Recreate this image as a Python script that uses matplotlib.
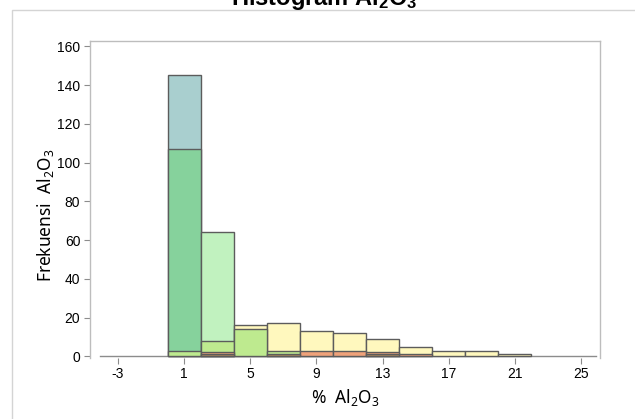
import matplotlib
matplotlib.use("Agg")
import matplotlib.pyplot as plt
from matplotlib.patches import Rectangle
import numpy as np

plt.rcParams['font.family'] = ['Noto Sans', 'DejaVu Sans']

# Bin edges of the histogram (% Al2O3)
bin_edges = [0, 2, 4, 6, 8, 10, 12, 14, 16, 18, 20, 22]

# Visible layers of the overlaid histogram (counts per bin)
teal   = [145, 0, 0, 0, 0, 0, 0, 0, 0, 0, 0]
green  = [107, 0, 0, 0, 0, 0, 0, 0, 0, 0, 0]
mint   = [0, 64, 0, 0, 0, 0, 0, 0, 0, 0, 0]
yellow = [0, 0, 16, 17, 13, 12, 9, 5, 3, 3, 1]
lime   = [3, 8, 14, 3, 0, 0, 0, 0, 0, 0, 0]
salmon = [0, 2, 0, 0, 3, 3, 2, 1, 0, 0, 0]
brown  = [0, 1, 0, 1, 0, 0, 1, 0, 0, 0, 0]

layers = [teal, green, mint, yellow, lime, salmon, brown]
colors = ['#A9CFCF', '#86D29C', '#C1F2BF', '#FFF8BE', '#BEEA8F', '#EFA27A', '#B38A5A']

xticks = [-3, 1, 5, 9, 13, 17, 21, 25]
yticks = [0, 20, 40, 60, 80, 100, 120, 140, 160]

W, H = 635, 419
fig = plt.figure(figsize=(W / 100, H / 100), dpi=100)

# outer light frame
fig.patches.append(Rectangle((12 / W, -0.2), 1.2, 1.2 - 10 / H,
                             transform=fig.transFigure, fill=False,
                             edgecolor='#D4D4D4', linewidth=1.0))

ax = fig.add_axes([90 / W, 1 - 357.5 / H, (600 - 90) / W, (357.5 - 41) / H])

edges = np.array(bin_edges, dtype=float)
lefts = edges[:-1]
widths = np.diff(edges)
for vals, col in zip(layers, colors):
    v = np.array(vals, dtype=float)
    m = v > 0
    ax.bar(lefts[m], v[m], width=widths[m], align='edge', color=col,
           edgecolor='#5C5C5C', linewidth=1.0)

# baseline
ax.plot([-4.1, 25.9], [0, 0], color='#8C8C8C', linewidth=1.0, zorder=0.5)

ax.set_xlim(-4.69, 26.15)
ax.set_ylim(-0.6, 162.8)

for s in ['left', 'right', 'top']:
    ax.spines[s].set_color('#BDBDBD')
    ax.spines[s].set_linewidth(1.0)
ax.spines['bottom'].set_visible(False)

ax.set_xticks(xticks)
ax.set_xticklabels([str(t) for t in xticks])
ax.set_yticks(yticks)
ax.set_yticklabels([str(t) for t in yticks])
ax.tick_params(axis='both', colors='#8C8C8C', length=4, width=0.8,
               labelsize=10, labelcolor='#000000')
ax.tick_params(axis='x', pad=3)
ax.tick_params(axis='y', pad=3)
for lab in ax.get_xticklabels() + ax.get_yticklabels():
    lab.set_family(['Liberation Sans', 'DejaVu Sans'])

ax.set_xlabel('%  Al$\\mathregular{_2}$O$\\mathregular{_3}$', fontsize=12.5, labelpad=4)
ax.set_ylabel('Frekuensi  Al$\\mathregular{_2}$O$\\mathregular{_3}$', fontsize=12.5, labelpad=1)
ax.yaxis.set_label_coords(-0.066, 0.448)

fig.text(324 / W, 1 - 5 / H, 'Histogram Al$\\mathregular{_2}$O$\\mathregular{_3}$',
         ha='center', va='baseline', fontsize=17, fontweight='bold',
         family=['Liberation Sans', 'DejaVu Sans'])

fig.savefig('out.png', dpi=100)
